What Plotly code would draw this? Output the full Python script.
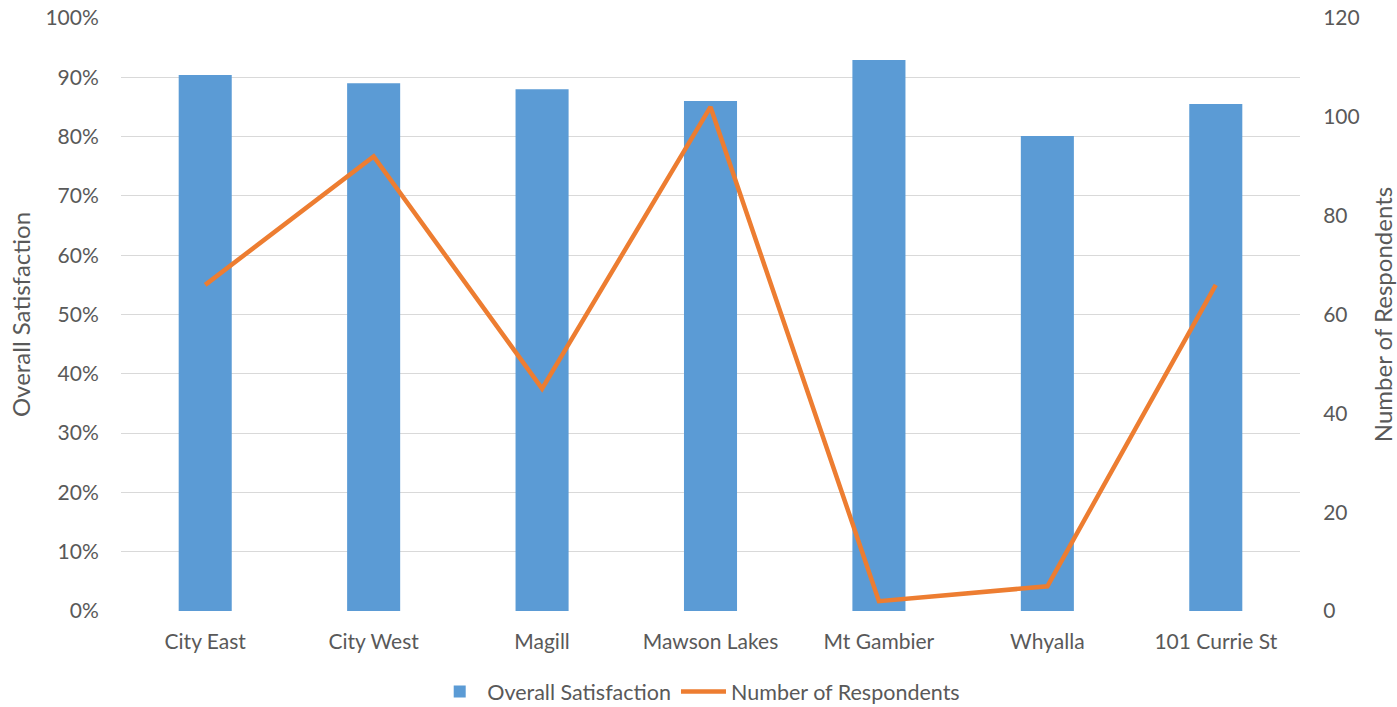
import plotly.graph_objects as go

campuses = ["City East", "City West", "Magill", "Mawson Lakes", "Mt Gambier", "Whyalla", "101 Currie St"]
satisfaction = [0.904, 0.890, 0.880, 0.860, 0.929, 0.801, 0.855]
respondents = [66, 92, 45, 102, 2, 5, 66]

pct_ticks = [i / 10 for i in range(11)]
pct_labels = [f"{i*10}%" for i in range(11)]
resp_ticks = [0, 20, 40, 60, 80, 100, 120]

font_family = "Lato, 'Open Sans', sans-serif"
text_color = "#595959"
clear = "rgba(0,0,0,0)"

fig = go.Figure()
fig.add_trace(go.Bar(
    x=campuses, y=satisfaction, name="Overall Satisfaction",
    marker=dict(color="#5B9BD5", line=dict(width=0)),
    yaxis="y",
))
fig.add_trace(go.Scatter(
    x=campuses, y=respondents, name="Number of Respondents",
    mode="lines", line=dict(color="#ED7D31", width=4.5),
    yaxis="y2",
))

fig.update_layout(
    width=1397, height=707,
    margin=dict(l=121, r=97, t=18, b=96, autoexpand=False),
    paper_bgcolor="white", plot_bgcolor="white",
    font=dict(family=font_family, size=21, color=text_color),
    bargap=0.685,
    showlegend=True,
    legend=dict(orientation="h", x=0.49, xanchor="center", y=-0.136, yanchor="middle",
                font=dict(size=21.5, color=text_color), traceorder="normal",
                itemwidth=45),
    xaxis=dict(showgrid=False, showline=False, ticks="outside", ticklen=12,
               tickcolor=clear, tickfont=dict(size=21)),
    yaxis=dict(
        range=[0, 1], tickvals=pct_ticks, ticktext=pct_labels,
        showgrid=True, gridcolor="#D9D9D9", gridwidth=1.3, zeroline=False,
        title=dict(text="Overall Satisfaction", font=dict(size=24), standoff=8),
        ticks="outside", ticklen=17, tickcolor=clear,
        tickfont=dict(size=21),
    ),
    yaxis2=dict(
        range=[0, 120], tickvals=resp_ticks, overlaying="y", side="right",
        showgrid=False, zeroline=False,
        title=dict(text="Number of Respondents", font=dict(size=24), standoff=16),
        ticks="outside", ticklen=18, tickcolor=clear,
        tickfont=dict(size=21),
    ),
)

fig.write_html("out.html")
